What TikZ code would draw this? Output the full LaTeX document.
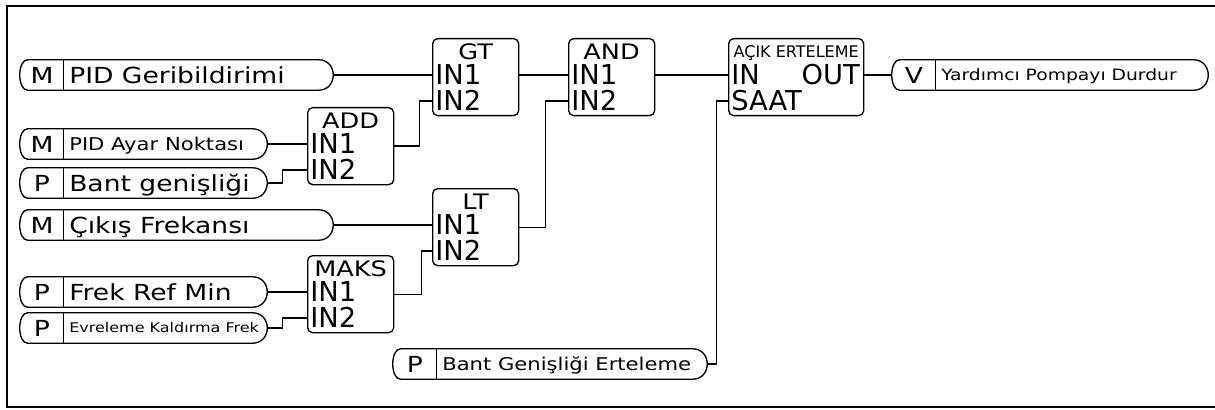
\documentclass[tikz,border=0pt]{standalone}
\usepackage{fontspec}
\setmainfont{DejaVu Sans}
\newfontfamily\pillfont[FakeStretch=1.2]{DejaVu Sans}
\usetikzlibrary{positioning,calc}

\tikzset{
  wire/.style={line width=1pt},
  pill/.style={rectangle, inner sep=0pt, minimum height=22.5pt},
  box/.style={draw, line width=1pt, rounded corners=3.75pt, inner sep=0pt,
    minimum width=64.5pt, minimum height=57.75pt, anchor=north west},
  port/.style={font=\fontsize{20.5}{22}\selectfont, inner sep=0pt, inner xsep=2.25pt,
    text height=14.9pt, text depth=0pt},
  head/.style={font=\pillfont\fontsize{16}{18}\selectfont, inner sep=0pt, text height=11.7pt, text depth=0pt},
  headS/.style={font=\fontsize{12}{14}\selectfont, inner sep=0pt, text height=8.7pt, text depth=0pt},
  tagL/.style={font=\pillfont\fontsize{16.6}{18}\selectfont, inner sep=0pt, text height=12.1pt, text depth=0pt},
  tagM/.style={font=\pillfont\fontsize{13.2}{15}\selectfont, inner sep=0pt, text height=9.6pt, text depth=0pt},
  tagY/.style={font=\pillfont\fontsize{11.7}{13}\selectfont, inner sep=0pt, text height=8.5pt, text depth=0pt},
  tagS/.style={font=\pillfont\fontsize{10}{12}\selectfont, inner sep=0pt, text height=7.3pt, text depth=0pt},
}

\begin{document}
\begin{tikzpicture}[x=0.75pt,y=-0.75pt]
  \useasboundingbox (0,0) rectangle (1215,410);
  \draw[line width=1.5pt] (6.5,6.5) rectangle (1225,406.5);

  % signal pills
  \foreach \nm/\xl/\xr/\y/\tg/\sty/\txt in {
    pidfb/20/333/75/M/tagL/PID Geribildirimi,
    pidsp/20/267/144/M/tagM/PID Ayar Noktası,
    band/20/267/183/P/tagL/Bant genişliği,
    outf/20/333/225/M/tagL/Çıkış Frekansı,
    frmin/20/267/292/P/tagL/Frek Ref Min,
    evr/20/267/328/P/tagS/Evreleme Kaldırma Frek,
    bwdel/393/707/364/P/tagM/Bant Genişliği Erteleme,
    stop/892/1208/75/V/tagY/Yardımcı Pompayı Durdur}
  {
    \node[pill, minimum width={(\xr-\xl)*0.75pt}] (\nm) at ({(\xl+\xr)/2},\y) {};
    \node[tagL] (\nm-tag) at (\xl+22,\y) {\tg};
    \node[\sty, anchor=west] (\nm-txt) at (\xl+49,\y) {\txt};
    \draw[wire] ([xshift=6pt]\nm.north west) -- ([xshift=-11.25pt]\nm.north east)
      .. controls ([xshift=3.75pt]\nm.north east) and ([xshift=3.75pt]\nm.south east) .. ([xshift=-11.25pt]\nm.south east)
      -- ([xshift=6pt]\nm.south west)
      .. controls ([xshift=-2pt]\nm.south west) and ([xshift=-2pt]\nm.north west) .. cycle;
    \draw[wire] ([xshift=33pt]\nm.north west) -- ([xshift=33pt]\nm.south west);
  }

  % function blocks
  \foreach \nm/\x/\y/\ttl in {gt/432/38/GT, and/568/38/AND, add/307/107/ADD,
                              lt/432/188/LT, maks/307/255/MAKS}
  {
    \node[box] (\nm) at (\x,\y) {};
    \node[head] (\nm-h) at ($(\nm.north)+(0,14)$) {\ttl};
    \node[port, anchor=west] (\nm-1) at (\x,\y+37) {IN1};
    \node[port, anchor=west] (\nm-2) at (\x,\y+63) {IN2};
  }
  \node[box, minimum width=101.25pt] (acik) at (728,38) {};
  \node[headS] (acik-h) at ($(acik.north)+(0,13.5)$) {AÇIK ERTELEME};
  \node[port, anchor=west] (acik-1) at (728,75) {IN};
  \node[port, anchor=east] (acik-o) at (863,75) {OUT};
  \node[port, anchor=west] (acik-2) at (728,101) {SAAT};

  % wiring
  \draw[wire] (pidfb.east) -- (gt-1.west);
  \draw[wire] (pidsp.east) -- (add-1.west);
  \draw[wire] (band.east) -- ++(15,0) |- (add-2.west);
  \draw[wire] (add.east) -- ++(25,0) |- (gt-2.west);
  \draw[wire] (outf.east) -- (lt-1.west);
  \draw[wire] (frmin.east) -- (maks-1.west);
  \draw[wire] (evr.east) -- ++(15,0) |- (maks-2.west);
  \draw[wire] (maks.east) -- ++(27,0) |- (lt-2.west);
  \draw[wire] (lt.east) -- ++(26,0) |- (and-2.west);
  \draw[wire] (gt-1 -| gt.east) -- (and-1.west);
  \draw[wire] (and-1 -| and.east) -- (acik-1.west);
  \draw[wire] (bwdel.east) -- ++(9,0) |- (acik-2.west);
  \draw[wire] (acik-o.east) -- (stop.west);
\end{tikzpicture}
\end{document}
